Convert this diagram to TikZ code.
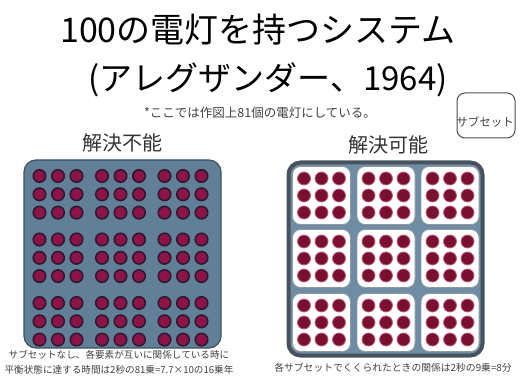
\documentclass[tikz,border=0pt]{standalone}
\usepackage{fontspec}
\setmainfont{Noto Sans CJK JP}
\definecolor{panelblue}{HTML}{627F98}
\definecolor{paneledge}{HTML}{3D5263}
\definecolor{frameR}{HTML}{46535F}
\definecolor{gapblue}{HTML}{6F8CA5}
\definecolor{dotL}{HTML}{8E1448}
\definecolor{dotLedge}{HTML}{2E1A30}
\definecolor{dotR}{HTML}{7A1030}
\definecolor{dotRedge}{HTML}{C06080}
\tikzset{
  titletext/.style={font=\fontsize{34}{36}\selectfont, inner sep=0pt},
  headtext/.style={font=\fontsize{20}{22}\selectfont, inner sep=0pt, text=black!80},
  smalltext/.style={font=\fontsize{9.6}{11}\selectfont, inner sep=0pt, text=black!75},
  panelL/.style={draw=paneledge, line width=1.2pt, fill=panelblue, rounded corners=12pt, minimum width=197pt, minimum height=188pt, inner sep=0pt},
  panelR/.style={draw=frameR, line width=4pt, fill=gapblue, rounded corners=12pt, minimum width=194pt, minimum height=193pt, inner sep=0pt},
  subbox/.style={draw=frameR!60, line width=0.8pt, fill=white, rounded corners=8pt, minimum width=58pt, minimum height=58pt, inner sep=0pt},
  lampL/.style={circle, fill=dotL, draw=dotLedge, line width=1.6pt, minimum size=12.5pt, inner sep=0pt},
  lampR/.style={circle, fill=dotR, draw=dotRedge, line width=0.8pt, minimum size=13pt, inner sep=0pt},
  legendbox/.style={draw=black!70, line width=1pt, rounded corners=8pt, minimum width=58pt, minimum height=45pt, inner sep=0pt}
}
\begin{document}
\begin{tikzpicture}[x=1pt,y=-1pt]
\useasboundingbox (0,0) rectangle (522,382);
% titles
\node[titletext] (t1) at (258,30) {100の電灯を持つシステム};
\node[titletext, font=\fontsize{33}{35}\selectfont] (t2) at (268,80) {(アレグザンダー、1964)};
\node[smalltext, font=\fontsize{12.5}{14}\selectfont] (note) at (260,113) {*ここでは作図上81個の電灯にしている。};
% legend box
\node[legendbox] (sub) at (486,115.5) {};
\node[smalltext, font=\fontsize{11.5}{13}\selectfont] (sublabel) at (485,122) {サブセット};
% headings
\node[headtext] (h1) at (122,143) {解決不能};
\node[headtext] (h2) at (388,145) {解決可能};
% left panel
\node[panelL] (pL) at (122.5,254) {};
\foreach \gi/\gx in {0/39.5,1/102,2/164.5}{
  \foreach \gj/\gy in {0/176,1/239.5,2/303}{
    \foreach \i in {0,1,2}{
      \foreach \j in {0,1,2}{
        \node[lampL] (L-\gi-\gj-\i-\j) at ({\gx+18.5*\i},{\gy+18.3*\j}) {};
      }
    }
  }
}
% right panel
\node[panelR] (pR) at (385.5,259) {};
\foreach \gi/\cx in {0/321.5,1/386,2/450}{
  \foreach \gj/\cy in {0/195.5,1/258.5,2/322.5}{
    \node[subbox] (S-\gi-\gj) at (\cx,\cy) {};
    \foreach \i in {-1,0,1}{
      \foreach \j in {-1,0,1}{
        \node[lampR] (R-\gi-\gj-\i-\j) at ({\cx+17.5*\i},{\cy+17*\j}) {};
      }
    }
  }
}
% captions
\node[smalltext] (c1) at (119,355) {サブセットなし、各要素が互いに関係している時に};
\node[smalltext] (c2) at (119,370) {平衡状態に達する時間は2秒の81乗=7.7×10の16乗年};
\node[smalltext, font=\fontsize{9.8}{11}\selectfont] (c3) at (393,368) {各サブセットでくくられたときの関係は2秒の9乗=8分};
\end{tikzpicture}
\end{document}
